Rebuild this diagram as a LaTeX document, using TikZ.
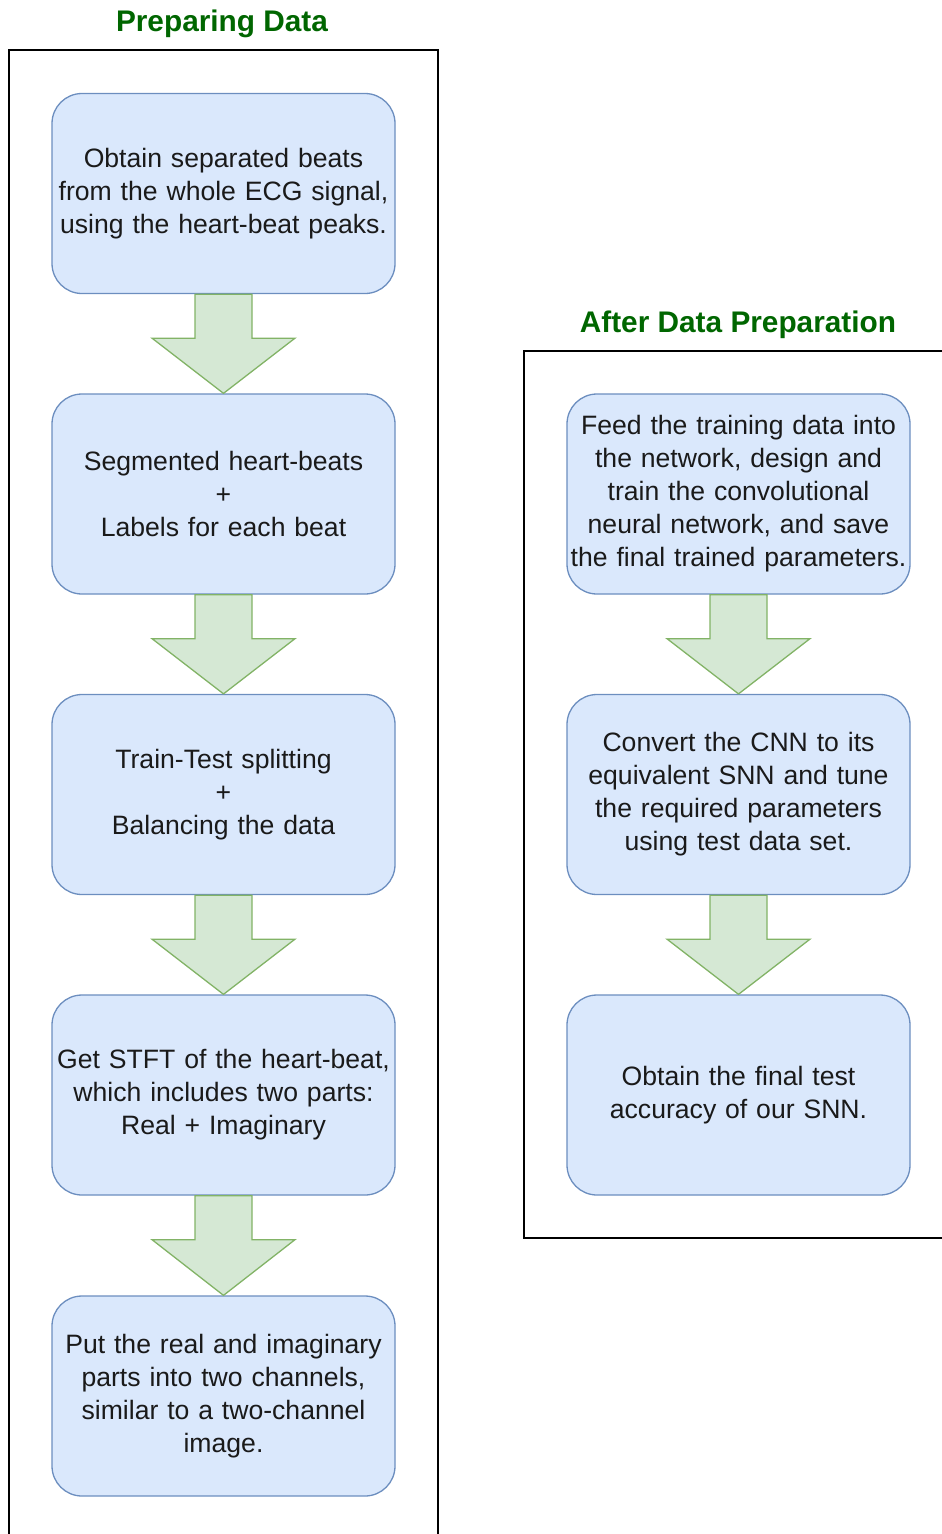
\documentclass[tikz,border=0pt]{standalone}
\usepackage{fontspec}
\setmainfont{Liberation Sans}
\usetikzlibrary{calc}
\definecolor{boxfill}{HTML}{DAE8FC}
\definecolor{boxdraw}{HTML}{6C8EBF}
\definecolor{arrfill}{HTML}{D5E8D4}
\definecolor{arrdraw}{HTML}{82B366}
\definecolor{ttl}{HTML}{006600}
\definecolor{txt}{HTML}{1A1A1A}
\newcommand\flowarrow[2]{%
  \draw[flowarr] ($(#1.south)+(-28.5,0)$) -- ($(#1.south)+(28.5,0)$) -- ($(#1.south)+(28.5,44)$) -- ($(#1.south)+(71.5,44)$) -- (#2.north) -- ($(#1.south)+(-71.5,44)$) -- ($(#1.south)+(-28.5,44)$) -- cycle;}
\begin{document}
\begin{tikzpicture}[x=1pt,y=-1pt,
  stepbox/.style={draw=boxdraw,fill=boxfill,line width=1.3pt,rounded corners=30pt,
    minimum width=343pt,minimum height=200pt,text width=343pt,align=center,
    text=txt,font=\fontsize{26.6}{33}\selectfont,inner sep=0pt},
  flowarr/.style={draw=arrdraw,fill=arrfill,line width=1.3pt,line join=miter},
  frame/.style={draw=black,line width=1.3pt},
  title/.style={text=ttl,font=\bfseries\fontsize{29.8}{32}\selectfont,inner sep=0pt}]
\useasboundingbox (0,0) rectangle (942,1534);
\clip (0,0) rectangle (942,1534);
\draw[frame] (9,50) rectangle (438,1560);
\draw[frame] (524,351) rectangle (970,1238);
\node[title] (t1) at (222,24) {Preparing Data};
\node[title] (t2) at (738,325) {After Data Preparation};
\node[stepbox] (a1) at (223.5,193.5) {Obtain separated beats\\from the whole ECG signal,\\using the heart-beat peaks.};
\node[stepbox] (a2) at (223.5,494) {Segmented heart-beats\\+\\Labels for each beat};
\node[stepbox] (a3) at (223.5,794.5) {Train-Test splitting\\+\\Balancing the data};
\node[stepbox] (a4) at (223.5,1095) {Get STFT of the heart-beat,\\which includes two parts:\\Real + Imaginary};
\node[stepbox] (a5) at (223.5,1396) {Put the real and imaginary\\parts into two channels,\\similar to a two-channel\\image.};
\node[stepbox] (b1) at (738.5,494) {Feed the training data into\\the network, design and\\train the convolutional\\neural network, and save\\the final trained parameters.};
\node[stepbox] (b2) at (738.5,794.5) {Convert the CNN to its\\equivalent SNN and tune\\the required parameters\\using test data set.};
\node[stepbox] (b3) at (738.5,1095) {Obtain the final test\\accuracy of our SNN.};
\flowarrow{a1}{a2}
\flowarrow{a2}{a3}
\flowarrow{a3}{a4}
\flowarrow{a4}{a5}
\flowarrow{b1}{b2}
\flowarrow{b2}{b3}
\end{tikzpicture}
\end{document}
